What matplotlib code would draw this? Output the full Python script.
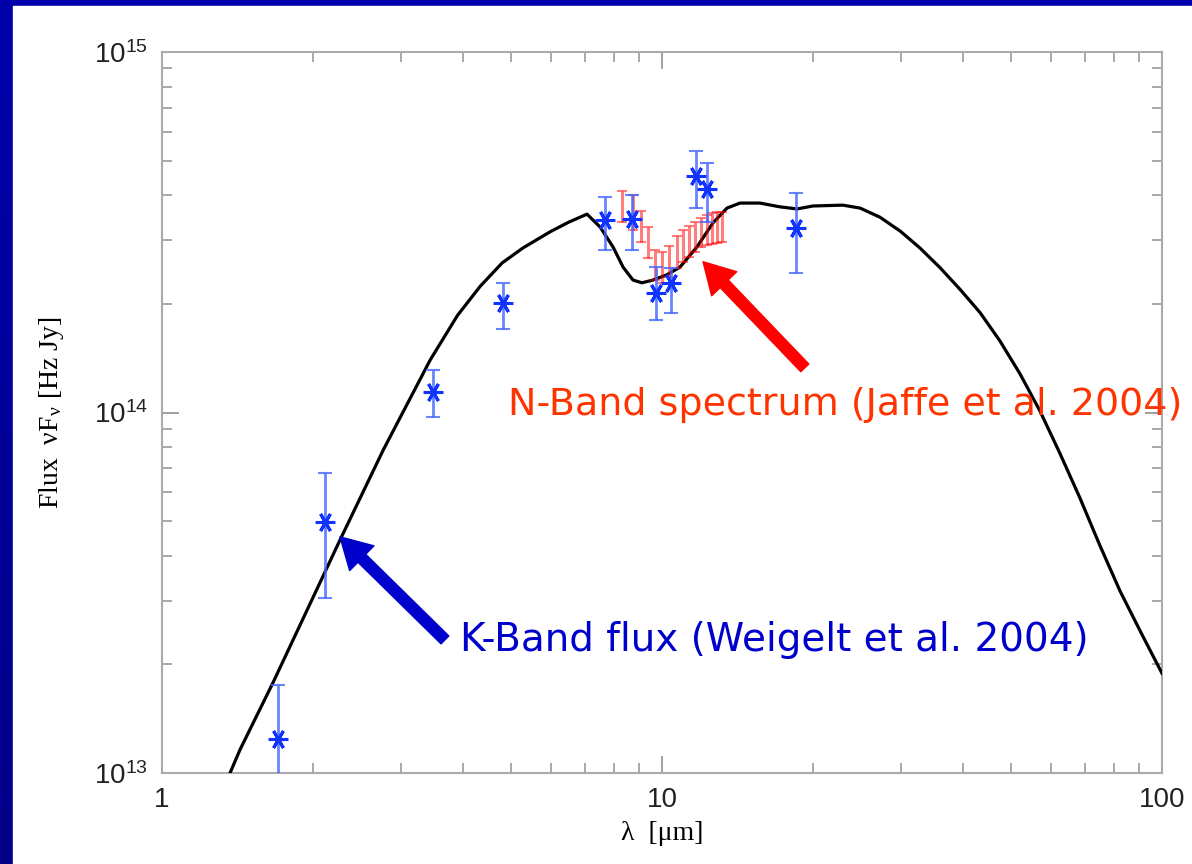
import matplotlib.pyplot as plt
import matplotlib.patches as patches
import numpy as np
from matplotlib.ticker import FixedLocator, FixedFormatter, LogLocator, NullFormatter

plt.rcParams['mathtext.fontset'] = 'stix'

# photometry (blue asterisks)
phot_lam = [1.71, 2.12, 3.48, 4.81, 7.69, 8.71, 9.73, 10.4, 11.7, 12.3, 18.5]
phot_flux = [1.24e13, 4.97e13, 1.14e14, 2.01e14, 3.42e14, 3.44e14, 2.14e14, 2.29e14, 4.53e14, 4.17e14, 3.25e14]
phot_lo = [0.5e13, 3.05e13, 0.97e14, 1.71e14, 2.83e14, 2.83e14, 1.81e14, 1.89e14, 3.69e14, 3.37e14, 2.44e14]
phot_hi = [1.75e13, 6.8e13, 1.31e14, 2.29e14, 3.97e14, 4.01e14, 2.54e14, 2.52e14, 5.31e14, 4.92e14, 4.06e14]

# N-band spectrum, lower / upper bounds
spec_lam = [8.32, 8.75, 9.08, 9.38, 9.68, 10.0, 10.33, 10.72, 11.02, 11.32,
            11.64, 11.97, 12.30, 12.59, 12.88, 13.18]
spec_lo = [3.38e14, 3.21e14, 2.97e14, 2.68e14, 2.33e14, 2.29e14, 2.38e14, 2.52e14,
           2.62e14, 2.70e14, 2.79e14, 2.88e14, 2.92e14, 2.93e14, 2.95e14, 2.97e14]
spec_hi = [4.12e14, 4.01e14, 3.62e14, 3.27e14, 2.82e14, 2.79e14, 2.90e14, 3.09e14,
           3.21e14, 3.29e14, 3.38e14, 3.46e14, 3.53e14, 3.58e14, 3.60e14, 3.60e14]

# model SED
model_lam = [1.368, 1.432, 1.667, 2.27, 2.77, 3.44, 3.90, 4.33, 4.79, 5.27, 5.97, 6.50,
             7.08, 7.52, 7.98, 8.36, 8.75, 9.12, 9.59, 10.23, 10.86, 11.75, 12.65, 13.49,
             14.32, 15.70, 17.2, 18.62, 20.04, 23.0, 24.9, 27.3, 30.0, 32.8, 36.0, 39.4,
             43.3, 47.4, 52.0, 57.0, 62.5, 68.5, 75.0, 82.4, 90.8, 100.0]
model_flux = [1.0e13, 1.16e13, 1.78e13, 4.43e13, 7.87e13, 1.40e14, 1.86e14, 2.24e14,
              2.60e14, 2.86e14, 3.17e14, 3.37e14, 3.55e14, 3.27e14, 2.88e14, 2.53e14,
              2.33e14, 2.29e14, 2.33e14, 2.41e14, 2.53e14, 2.88e14, 3.36e14, 3.69e14,
              3.81e14, 3.81e14, 3.72e14, 3.67e14, 3.74e14, 3.76e14, 3.69e14, 3.48e14,
              3.18e14, 2.86e14, 2.52e14, 2.20e14, 1.89e14, 1.58e14, 1.28e14, 1.01e14,
              7.7e13, 5.8e13, 4.3e13, 3.2e13, 2.45e13, 1.89e13]

fig = plt.figure(figsize=(11.92, 8.64), dpi=100)

# slide background: blue gradient with white panel
bg = fig.add_axes([0, 0, 1, 1])
grad = np.linspace(0, 1, 256).reshape(-1, 1)
cm = plt.matplotlib.colors.LinearSegmentedColormap.from_list('bg', ['#0000ac', '#000088'])
bg.imshow(grad, aspect='auto', cmap=cm, extent=[0, 1, 0, 1], origin='upper')
bg.add_patch(patches.Rectangle((13 / 1192, 0), 1, 1 - 6 / 864, color='white'))
bg.set_xlim(0, 1)
bg.set_ylim(0, 1)
bg.axis('off')

ax = fig.add_axes([162 / 1192, 1 - 773 / 864, 1000 / 1192, 721 / 864])
ax.set_xscale('log')
ax.set_yscale('log')
ax.set_xlim(1, 100)
ax.set_ylim(1e13, 1e15)
ax.patch.set_alpha(0)

ax.plot(model_lam, model_flux, color='black', lw=2.3, zorder=3)

sf = np.array(spec_lo)
sh = np.array(spec_hi)
smid = np.sqrt(sf * sh)
ax.errorbar(spec_lam, smid, yerr=[smid - sf, sh - smid], fmt='none', ecolor='red',
            alpha=0.5, elinewidth=2.2, capsize=3.5, capthick=1.5, zorder=4)

pf = np.array(phot_flux)
ax.errorbar(phot_lam, pf, yerr=[pf - np.array(phot_lo), np.array(phot_hi) - pf],
            fmt='none', ecolor='#4466ff', alpha=0.8, elinewidth=2, capsize=5,
            capthick=1.5, zorder=5)
ax.plot(phot_lam, pf, ls='none', marker=(6, 2, 30), ms=14, mew=2.2,
        color='#1133ff', zorder=6)

for s in ax.spines.values():
    s.set_color('#aaaaaa')
    s.set_linewidth(1.5)
ax.tick_params(which='both', direction='in', top=True, right=True, color='#999999')
ax.tick_params(which='major', length=12, width=1.3, labelsize=20, pad=10)
ax.tick_params(which='minor', length=7, width=1.2)
ax.xaxis.set_major_locator(FixedLocator([1, 10, 100]))
ax.xaxis.set_major_formatter(FixedFormatter(['1', '10', '100']))
ax.xaxis.set_minor_locator(LogLocator(base=10, subs=np.arange(2, 10)))
ax.xaxis.set_minor_formatter(NullFormatter())
ax.yaxis.set_minor_locator(LogLocator(base=10, subs=np.arange(2, 10)))
ax.yaxis.set_minor_formatter(NullFormatter())
for lab in ax.get_xticklabels() + ax.get_yticklabels():
    lab.set_family('Liberation Sans')
    lab.set_color('#222222')

ax.set_xlabel('λ  [μm]', family='Liberation Serif', fontsize=20, labelpad=6)
ax.set_ylabel(r'Flux  νF$_{\mathregular{ν}}$ [Hz Jy]', family='Liberation Serif',
              fontsize=20, labelpad=20)

ax.annotate('', xy=(2.27, 4.52e13), xytext=(3.68, 2.34e13),
            arrowprops=dict(facecolor='#0000cc', edgecolor='#0000cc', width=8,
                            headwidth=25, headlength=22), zorder=7)
ax.text(3.94, 2.34e13, 'K-Band flux (Weigelt et al. 2004)', color='#0000cc',
        fontsize=28, family='DejaVu Sans', va='center', ha='left')

ax.annotate('', xy=(12.08, 2.62e14), xytext=(19.3, 1.33e14),
            arrowprops=dict(facecolor='#ff0000', edgecolor='#ff0000', width=8,
                            headwidth=25, headlength=22), zorder=7)
ax.text(4.92, 1.05e14, 'N-Band spectrum (Jaffe et al. 2004)', color='#ff3300',
        fontsize=27.4, family='DejaVu Sans', va='center', ha='left', clip_on=False)

fig.savefig('out.png', dpi=100)
